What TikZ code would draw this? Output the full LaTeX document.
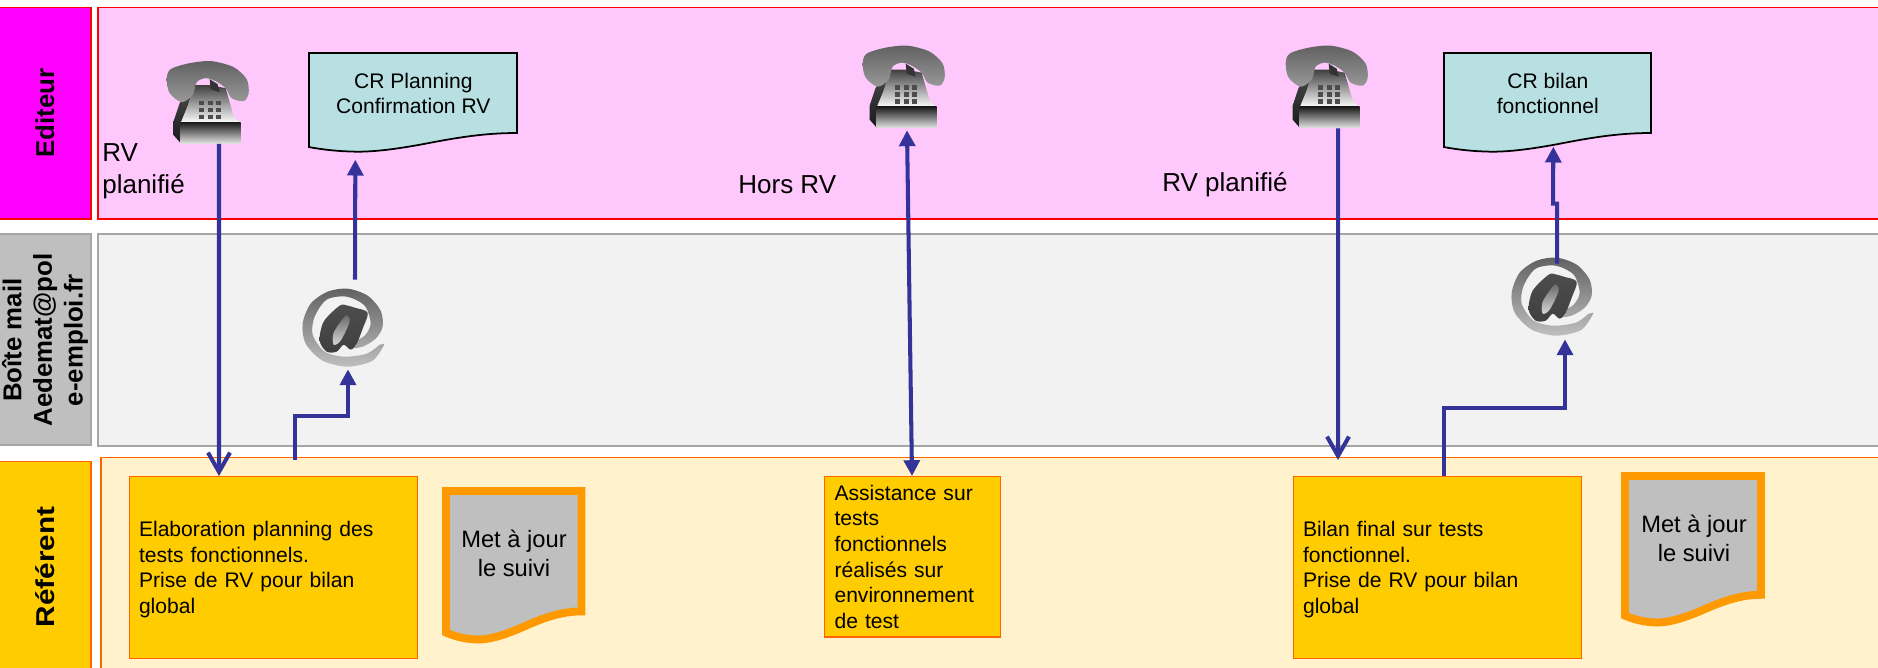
\documentclass[tikz,border=0pt]{standalone}
\usepackage{fontspec}
\setmainfont{Liberation Sans}
\usepackage{tikz}
\usetikzlibrary{arrows.meta, positioning, calc}

\definecolor{laneblue}{HTML}{333399}
\definecolor{docteal}{HTML}{B8E0E2}
\definecolor{rdvorange}{HTML}{FF9900}
\definecolor{rdvyellow}{HTML}{FFCC00}
\definecolor{rdvred}{HTML}{FF6600}
\definecolor{rdvmagenta}{HTML}{FF00FF}
\definecolor{rdvpink}{HTML}{FFC8FC}
\definecolor{rdvcream}{HTML}{FFF2CC}

\tikzset{
  lanecell/.style={line width=0.7pt},
  sidelabel/.style={rotate=90, align=center, font=\fontsize{14.7}{17.6}\selectfont\bfseries, inner sep=0pt},
  taskbox/.style={draw=rdvred, fill=rdvyellow, line width=0.6pt, anchor=north west, align=left, inner xsep=0.2cm, inner ysep=0pt, font=\fontsize{12}{14.57}\selectfont},
  doclabel/.style={align=center, inner sep=0pt, anchor=north west, font=\fontsize{12}{14.57}\selectfont},
  suivilabel/.style={align=center, inner sep=0pt, font=\fontsize{13.5}{16.4}\selectfont},
  lanetext/.style={align=left, inner sep=0pt, font=\fontsize{14.8}{18.1}\selectfont},
  iconspot/.style={inner sep=0pt, minimum width=1.68cm, minimum height=1.64cm},
  flow/.style={draw=laneblue, line width=2.3pt},
  pushto/.style={flow, -{Triangle[length=9pt, width=9pt]}},
  dropto/.style={flow, -{Straight Barb[length=11pt, width=12.5pt]}},
  bothways/.style={flow, {Triangle[length=9pt, width=9pt]}-{Triangle[length=9pt, width=9pt]}},
  crsheet/.style={draw=black, fill=docteal, line width=1pt},
  suivisheet/.style={draw=rdvorange, fill=black!25, line width=4.5pt},
  pics/wavedoc/.style 2 args={code={
    \path[pic actions] (0,0) -- (#1,0) -- (#1,0.808*#2)
      .. controls (0.85*#1,0.808*#2) and (0.72*#1,0.85*#2) .. (0.55*#1,0.92*#2)
      .. controls (0.42*#1,0.97*#2) and (0.3*#1,1.005*#2) .. (0.2*#1,0.995*#2)
      .. controls (0.12*#1,0.99*#2) and (0.05*#1,0.97*#2) .. (0,0.95*#2) -- cycle;
  }},
  pics/telephone/.style={code={
    % left flank and front of the set
    \shade[top color=black!70, bottom color=black!90] (29,24) -- (14,42) -- (8,60) -- (8,74) -- (15,82) -- (15,62) -- (22,45) -- cycle;
    \shade[top color=black!75, bottom color=white] (29,24) -- (44,24) -- (60,27) -- (68,55) -- (75,62) -- (15,62) -- (22,45) -- cycle;
    \shade[top color=black!90, bottom color=black!12] (15,61) -- (75,61) -- (75,82) -- (15,82) -- cycle;
    \fill[black!80] (44,18) -- (52,23) -- (54,31) -- (45,28) -- cycle;
    % handset
    \shade[top color=black!62, middle color=black!82, bottom color=black!40]
      plot[smooth cycle] coordinates {(1,18) (5,8) (24,2) (46,0) (68,6) (81,18) (83,32) (78,40) (66,37) (60,27) (50,20) (40,17) (31,21) (27,34) (16,41) (4,32)};
    % keypad
    \foreach \keyx in {36,45,53}
      \foreach \keyy in {42,49,56}
        \fill[black!70] (\keyx-2.2,\keyy-2.2) rectangle (\keyx+2.2,\keyy+2.2);
  }},
  pics/arobase/.style={code={
    % outer band
    \shade[top color=black!62, middle color=black!82, bottom color=black!25]
      plot[smooth] coordinates {(82,55) (70,72) (45,78) (20,72) (3,55) (0,35) (8,15) (25,3) (45,0) (65,7) (78,22) (80,38) (73,50) (60,58) (47,60)}
      -- plot[smooth] coordinates {(51,53) (62,47) (68,35) (62,17) (44,8) (24,11) (12,28) (10,46) (22,63) (42,68) (64,65) (77,56)} -- cycle;
    % letter
    \shade[top color=black!70, middle color=black!8, bottom color=black!75]
      plot[smooth cycle] coordinates {(37,17) (45,17) (52,19) (65,24) (60,40) (54,55) (48,61) (41,56) (34,63) (24,63) (17,52) (21,33)};
    \shade[top color=black!60, bottom color=black!15] plot[smooth cycle] coordinates {(43,27) (47,33) (38,52) (31,56) (31,44)};
  }},
}

\begin{document}
\begin{tikzpicture}[x=0.02cm, y=-0.02cm]
  \clip (0,0) rectangle (1878,667);

  % Lanes
  \draw[lanecell, draw=red, fill=rdvmagenta] (-2,7.5) rectangle (91,219);
  \draw[lanecell, draw=red, fill=rdvpink] (98,7.5) rectangle (1890,219);
  \draw[lanecell, draw=black!35, fill=black!25] (-2,234) rectangle (91,445);
  \draw[lanecell, draw=black!35, fill=black!5] (98,234) rectangle (1890,446);
  \draw[lanecell, draw=rdvred, fill=rdvyellow] (-2,461.5) rectangle (91,680);
  \draw[lanecell, draw=rdvred, fill=rdvcream] (101,457.5) rectangle (1890,680);

  % Lane names
  \node[sidelabel] (nameEditeur) at (45,113) {Editeur};
  \node[sidelabel] (nameBoite) at (45,340) {Boîte mail\\[-0.2pt]Aedemat@pol\\[-0.2pt]e-emploi.fr};
  \node[sidelabel, xscale=1.15] (nameReferent) at (45,567) {Référent};

  % Free labels
  \node[lanetext, anchor=west] (rvOne) at (102,171) {RV\\planifié};
  \node[lanetext, anchor=west] (horsRv) at (738,184.5) {Hors RV};
  \node[lanetext, anchor=west] (rvTwo) at (1162,184.5) {RV planifié};

  % Documents
  \pic[crsheet] at (309,53) {wavedoc={208}{99}};
  \pic[crsheet] at (1444,53) {wavedoc={207}{99}};
  \node[doclabel, minimum width=4.16cm, minimum height=1.6cm] (crplan) at (309,53) {CR Planning\\Confirmation RV};
  \node[doclabel, minimum width=4.14cm, minimum height=1.6cm] (crbilan) at (1444,53) {CR bilan\\fonctionnel};
  \pic[suivisheet] at (446,491) {wavedoc={135.5}{149}};
  \pic[suivisheet] at (1625,476) {wavedoc={136}{147}};
  \node[suivilabel] (suiviA) at (514,553.5) {Met à jour\\le suivi};
  \node[suivilabel] (suiviB) at (1694,538) {Met à jour\\le suivi};

  % Tasks
  \node[taskbox, text width=5.37cm, minimum height=3.64cm] (planning) at (128.5,476) {\rule{0pt}{11pt}Elaboration planning des\\tests fonctionnels.\\Prise de RV pour bilan\\global};
  \node[taskbox, text width=3.12cm, minimum height=3.21cm] (assist) at (824,476) {Assistance sur\\tests\\fonctionnels\\réalisés sur\\environnement\\de test};
  \node[taskbox, text width=5.37cm, minimum height=3.64cm] (bilan) at (1292.5,476) {\rule{0pt}{11pt}Bilan final sur tests\\fonctionnel.\\Prise de RV pour bilan\\global};

  % Icons
  \node[iconspot] (telA) at (208,102.5) {};
  \node[iconspot] (telB) at (904,87) {};
  \node[iconspot] (telC) at (1327,87) {};
  \node[iconspot, minimum width=1.64cm, minimum height=1.56cm] (mailA) at (344,328) {};
  \node[iconspot, minimum width=1.64cm, minimum height=1.56cm] (mailB) at (1553,297) {};
  \pic at (telA.north west) {telephone};
  \pic at (telB.north west) {telephone};
  \pic at (telC.north west) {telephone};
  \pic at (mailA.north west) {arobase};
  \pic at (mailB.north west) {arobase};

  % Flows
  \draw[dropto] ($(telA.south)+(11,0)$) -- ($(planning.north west)+(90.5,0)$);
  \draw[pushto] ($(planning.north west)+(166.5,-16)$) -- ++(0,-44) -| ($(mailA.south)+(4,2)$);
  \draw[pushto] ($(mailA.north)+(11,-9)$) -- ($(crplan.south)+(-58,26)$);
  \draw[bothways] ($(telB.south)+(3,2)$) -- ($(assist.north west)+(88,0)$);
  \draw[dropto] ($(telC.south)+(11,0)$) -- ($(bilan.north west)+(45.5,-16)$);
  \draw[pushto] ($(bilan.north west)+(151.5,0)$) -- ++(0,-68) -| ($(mailB.south)+(12,3)$);
  \draw[pushto] ($(mailB.north)+(4,6)$) -- ++(0,-60) -- ++(-4,0) -- ($(crbilan.south)+(5.5,13)$);
\end{tikzpicture}
\end{document}
